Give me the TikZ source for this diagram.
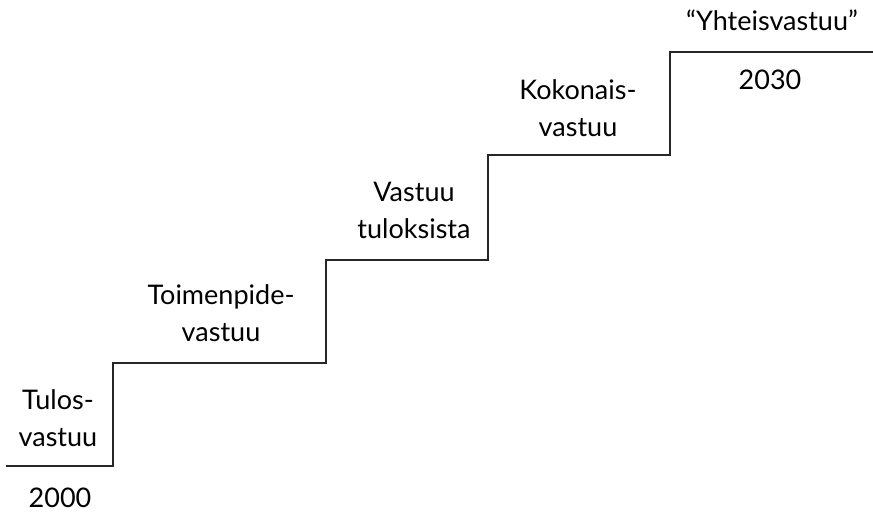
\documentclass[tikz,border=0pt]{standalone}
\usepackage{fontspec}
\setmainfont{Lato}
\begin{document}
\begin{tikzpicture}[x=1pt,y=-1pt,
  stair/.style={line width=1.1pt,draw=black!85},
  lbl/.style={font=\fontsize{27}{37}\selectfont,align=center,inner sep=0pt,text=black}]
\useasboundingbox (0,0) rectangle (873,512);
% staircase corners
\coordinate (s0) at (6,466);
\coordinate (s1) at (113,466);
\coordinate (s2) at (113,363);
\coordinate (s3) at (326,363);
\coordinate (s4) at (326,260);
\coordinate (s5) at (488,260);
\coordinate (s6) at (488,155);
\coordinate (s7) at (670,155);
\coordinate (s8) at (670,52);
\coordinate (s9) at (873,52);
\draw[stair] (s0) -- (s1) -- (s2) -- (s3) -- (s4) -- (s5) -- (s6) -- (s7) -- (s8) -- (s9);
% step labels
\node[lbl] (t1) at (58,418) {Tulos-\\vastuu};
\node[lbl] (t2) at (221,313) {Toimenpide-\\vastuu};
\node[lbl] (t3) at (414,210) {Vastuu\\tuloksista};
\node[lbl] (t4) at (578,108) {Kokonais-\\vastuu};
\node[lbl] (t5) at (772,20) {``Yhteisvastuu''};
% years
\node[lbl] (y1) at (60,498) {2000};
\node[lbl] (y2) at (770,80) {2030};
\end{tikzpicture}
\end{document}
